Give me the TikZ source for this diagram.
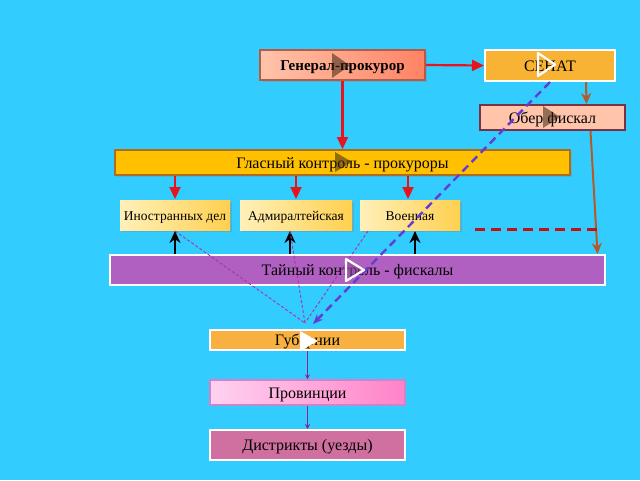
\documentclass[tikz,border=0pt]{standalone}
\usepackage{fontspec}
\setmainfont{Liberation Serif}
\usetikzlibrary{arrows.meta,shadows}
\definecolor{bg}{RGB}{51,204,255}
\definecolor{salmon}{RGB}{255,196,170}
\definecolor{salmondk}{RGB}{255,130,100}
\definecolor{senat}{RGB}{248,178,52}
\definecolor{glas}{RGB}{255,192,0}
\definecolor{glasbd}{RGB}{170,110,30}
\definecolor{ylt}{RGB}{255,240,185}
\definecolor{ydk}{RGB}{255,208,80}
\definecolor{tai}{RGB}{176,96,192}
\definecolor{gub}{RGB}{248,176,64}
\definecolor{pinklt}{RGB}{255,210,240}
\definecolor{pinkdk}{RGB}{255,130,200}
\definecolor{distr}{RGB}{208,112,160}
\definecolor{redarr}{RGB}{230,20,30}
\definecolor{brownarr}{RGB}{180,90,40}
\definecolor{bluedash}{RGB}{100,60,210}
\definecolor{thinpurp}{RGB}{170,50,170}
\definecolor{oberbd}{RGB}{120,50,70}
\tikzset{
  box/.style={draw, line width=2pt, inner sep=0pt, anchor=center, text height=11.5pt, text depth=0pt, font=\fontsize{16}{18}\selectfont},
  smallbox/.style={box, draw=none, left color=ylt, right color=ydk, drop shadow={shadow xshift=1.5pt, shadow yshift=-2pt, opacity=0.35}, text height=10pt, font=\fontsize{13.5}{15}\selectfont},
  redarrow/.style={draw=redarr, line width=2.2pt, -{Triangle[length=12pt,width=11pt]}},
  blackarrow/.style={draw=black, line width=2.4pt, -{Stealth[length=12pt,width=11pt]}},
  brownarrow/.style={draw=brownarr, line width=2pt, -{Stealth[length=11pt,width=10pt]}},
  thinarrow/.style={draw=thinpurp!80!black, line width=1pt, -{Stealth[length=5pt,width=5pt]}},
  thindash/.style={draw=thinpurp, line width=0.9pt, dash pattern=on 3pt off 2pt},
  darktri/.style={fill=black!70!brown, opacity=0.55},
  whitetri/.style={draw=white, line width=2.2pt, line join=round}
}
\begin{document}
\begin{tikzpicture}[x=1pt,y=-1pt]
\fill[bg] (0,0) rectangle (640,480);
\useasboundingbox (0,0) rectangle (640,480);

\node[box, draw=salmondk!70!black, left color=salmon, right color=salmondk, minimum width=165pt, minimum height=30pt, text height=11pt, font=\fontsize{15}{17}\selectfont\bfseries, drop shadow={shadow xshift=1.5pt, shadow yshift=-2pt, opacity=0.3}] (gen) at (342.5,65) {Генерал-прокурор};
\node[box, draw=white, fill=senat, minimum width=130pt, minimum height=31pt] (sen) at (550,65.5) {СЕНАТ};
\node[box, draw=oberbd, fill=salmon, minimum width=145pt, minimum height=25pt] (ober) at (552.5,117.5) {Обер фискал};
\node[box, draw=glasbd, fill=glas, minimum width=455pt, minimum height=25pt, drop shadow={shadow xshift=1.5pt, shadow yshift=-2pt, opacity=0.3}] (glas) at (342.5,162.5) {Гласный контроль - прокуроры};
\node[smallbox, minimum width=110pt, minimum height=30pt] (ino) at (175,215) {Иностранных дел};
\node[smallbox, minimum width=112pt, minimum height=30pt] (adm) at (296,215) {Адмиралтейская};
\node[smallbox, minimum width=100pt, minimum height=30pt] (voe) at (410,215) {Военная};
\node[box, draw=white, fill=tai, minimum width=495pt, minimum height=30pt] (tai) at (357.5,270) {Тайный контроль - фискалы};
\node[box, draw=white, fill=gub, minimum width=195pt, minimum height=20pt] (gub) at (307.5,340) {Губернии};
\node[box, draw=thinpurp!60, line width=1.2pt, left color=pinklt, right color=pinkdk, minimum width=195pt, minimum height=25pt] (prov) at (307.5,392.5) {Провинции};
\node[box, draw=white, fill=distr, minimum width=195pt, minimum height=30pt] (dis) at (307.5,445) {Дистрикты (уезды)};

% red arrows
\draw[redarrow] (gen.east) -- (sen.west);
\draw[redarrow] (gen.south) -- (glas.north);
\draw[redarrow] (ino.north |- glas.south) -- (ino.north);
\draw[redarrow] (adm.north |- glas.south) -- (adm.north);
\draw[redarrow] ([xshift=-2pt]voe.north |- glas.south) -- ([xshift=-2pt]voe.north);

% black arrows
\draw[blackarrow] (ino.south |- tai.north) -- (ino.south);
\draw[blackarrow] ([xshift=-6pt]adm.south |- tai.north) -- ([xshift=-6pt]adm.south);
\draw[blackarrow] ([xshift=5pt]voe.south |- tai.north) -- ([xshift=5pt]voe.south);

% brown arrows
\draw[brownarrow] ([xshift=36pt]sen.south) -- ([xshift=34pt]ober.north);
\draw[brownarrow] ([xshift=38pt]ober.south) -- ([xshift=240pt]tai.north);

% red dashed line
\coordinate (d1) at (475,229);
\coordinate (d2) at (600,229);
\draw[redarr!85!black, line width=3pt, dash pattern=on 10pt off 6pt] (d1) -- (d2);

% convergence point above Губернии
\coordinate (g0) at (305,323);
\coordinate (g1) at (313,324);
\draw[thindash] (ino.south) -- (g0);
\draw[thindash] ([xshift=-6pt]adm.south) -- (g0);
\draw[thindash] ([xshift=-42pt]voe.south) -- (g0);
\draw[bluedash, line width=2.4pt, dash pattern=on 8pt off 5pt, -{Stealth[length=10pt,width=8pt]}] ([xshift=0pt]sen.south) -- (g1);

% thin arrows down
\draw[thinarrow] (gub.south) -- (prov.north);
\draw[thinarrow] (prov.south) -- (dis.north);

% play triangles
\fill[darktri] (332,53) -- (350,65.5) -- (332,78) -- cycle;
\draw[whitetri] (538,53) -- (555,64.5) -- (538,76) -- cycle;
\fill[darktri] (543,106) -- (560,117) -- (543,128) -- cycle;
\fill[darktri] (335,152) -- (352,162) -- (335,172) -- cycle;
\draw[whitetri, fill=tai!80!black, fill opacity=0.6] (346,259) -- (364,270) -- (346,281) -- cycle;
\fill[white] (300,331) -- (318,341) -- (300,351) -- cycle;
\end{tikzpicture}
\end{document}
